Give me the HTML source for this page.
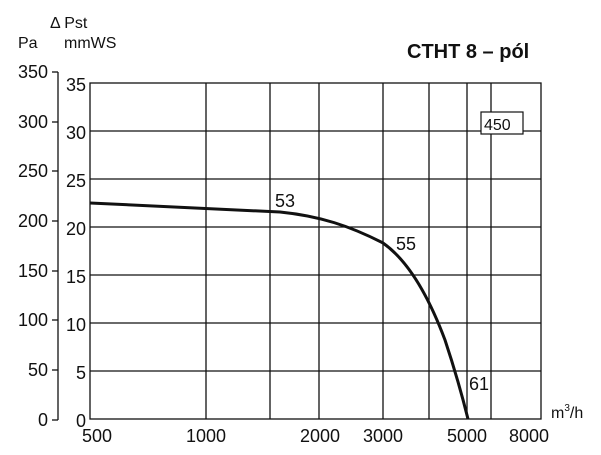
<!DOCTYPE html>
<html><head><style>body{margin:0;background:#fff}svg{display:block}text{font-family:"Liberation Sans",sans-serif;fill:#111}</style></head><body>
<svg width="601" height="455" viewBox="0 0 601 455">
<g stroke="#111" stroke-width="1.3" fill="none">
<rect x="90" y="83" width="451" height="336"/>
<line x1="90" y1="131" x2="541" y2="131"/><line x1="90" y1="179" x2="541" y2="179"/><line x1="90" y1="227" x2="541" y2="227"/><line x1="90" y1="275" x2="541" y2="275"/><line x1="90" y1="323" x2="541" y2="323"/><line x1="90" y1="371" x2="541" y2="371"/>
<line x1="206" y1="83" x2="206" y2="419"/><line x1="270" y1="83" x2="270" y2="419"/><line x1="319" y1="83" x2="319" y2="419"/><line x1="383" y1="83" x2="383" y2="419"/><line x1="429" y1="83" x2="429" y2="419"/><line x1="467" y1="83" x2="467" y2="419"/><line x1="491" y1="83" x2="491" y2="419"/>
<line x1="58" y1="72" x2="58" y2="420"/>
<line x1="52" y1="72" x2="58" y2="72"/><line x1="52" y1="122" x2="58" y2="122"/><line x1="52" y1="171" x2="58" y2="171"/><line x1="52" y1="221" x2="58" y2="221"/><line x1="52" y1="271" x2="58" y2="271"/><line x1="52" y1="320" x2="58" y2="320"/><line x1="52" y1="370" x2="58" y2="370"/><line x1="52" y1="420" x2="58" y2="420"/>
<path d="M90,203 C180,207 240,210 280,212 C320,216 350,226 383,243 C410,262 430,300 445,340 C455,370 462,395 468,419" stroke-width="3"/>
<rect x="481" y="112" width="42" height="22" stroke-width="1.2" fill="#fff"/>
</g>
<g font-size="18" text-anchor="end">
<text x="48" y="78">350</text><text x="48" y="128">300</text><text x="48" y="177">250</text><text x="48" y="227">200</text><text x="48" y="277">150</text><text x="48" y="326">100</text><text x="48" y="376">50</text><text x="48" y="426">0</text>
<text x="86" y="91">35</text><text x="86" y="139">30</text><text x="86" y="187">25</text><text x="86" y="235">20</text><text x="86" y="283">15</text><text x="86" y="331">10</text><text x="86" y="379">5</text><text x="86" y="427">0</text>
</g>
<g font-size="18" text-anchor="middle">
<text x="97" y="442">500</text><text x="206" y="442">1000</text><text x="320" y="442">2000</text><text x="383" y="442">3000</text><text x="467" y="442">5000</text><text x="529" y="442">8000</text>
</g>
<text x="18" y="48" font-size="16">Pa</text>
<text x="50" y="28" font-size="16">Δ Pst</text>
<text x="64" y="48" font-size="16">mmWS</text>
<text x="407" y="58" font-size="20" font-weight="bold">CTHT 8 – pól</text>
<text x="484" y="130" font-size="16">450</text>
<text x="275" y="207" font-size="18">53</text>
<text x="396" y="250" font-size="18">55</text>
<text x="469" y="390" font-size="18">61</text>
<text x="551" y="418" font-size="16">m<tspan font-size="10" dy="-7">3</tspan><tspan dy="7">/h</tspan></text>
</svg>
</body></html>
